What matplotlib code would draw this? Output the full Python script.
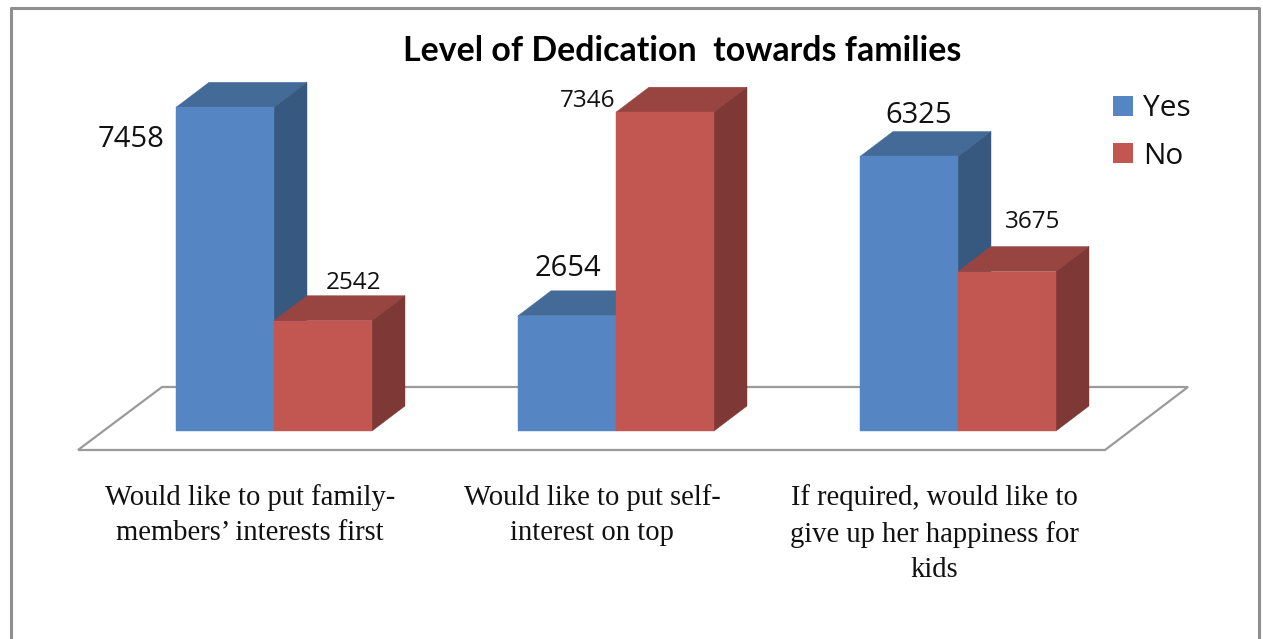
import matplotlib
matplotlib.use('Agg')
import matplotlib.pyplot as plt
from matplotlib.patches import Polygon, Rectangle
import numpy as np

categories = ['Would like to put family-\nmembers\u2019 interests first',
              'Would like to put self-\ninterest on top',
              'If required, would like to\ngive up her happiness for\nkids']
yes_values = [7458, 2654, 6325]
no_values = [2542, 7346, 3675]

title = 'Level of Dedication  towards families'

#colors: front, top, side
yes_colors = ('#5585C2', '#446A97', '#38597F')
no_colors = ('#C25651', '#984542', '#7E3836')
border = '#8F8F8F'

#pixel layout of the reference
W, H = 1263, 639
base_px = 431
px_per_unit = 0.0434
group_px = 342
first_px = 274
bar_w = 98 / group_px
depth_x = 33 / group_px
depth_y = 25 / px_per_unit

def to_x(px):
    return (px - first_px) / group_px

def to_y(py):
    return (base_px - py) / px_per_unit

fig = plt.figure(figsize=(W / 100, H / 100), dpi=100)
ax = fig.add_axes([0, 0, 1, 1])
ax.set_xlim(to_x(0), to_x(W))
ax.set_ylim(to_y(H), to_y(0))
ax.axis('off')

#chart frame, no bottom edge because the image is cropped there
ax.plot([to_x(10.5), to_x(10.5), to_x(1259), to_x(1259)],
        [to_y(H), to_y(8), to_y(8), to_y(H)], color=border, lw=2.2, zorder=1)

#floor
floor = [(78, 450), (1105, 450), (1188, 387), (162, 387)]
ax.add_patch(Polygon([(to_x(a), to_y(b)) for a, b in floor], closed=True,
                     facecolor='white', edgecolor='#9A9A9A', lw=1.6, zorder=2))


def bar3d(x, v, colors, z):
    left = x - bar_w / 2
    right = x + bar_w / 2
    ax.add_patch(Polygon([(left, v), (right, v), (right + depth_x, v + depth_y),
                          (left + depth_x, v + depth_y)],
                         facecolor=colors[1], edgecolor=colors[1], lw=0.3, zorder=z))
    ax.add_patch(Polygon([(right, 0), (right + depth_x, depth_y),
                          (right + depth_x, v + depth_y), (right, v)],
                         facecolor=colors[2], edgecolor=colors[2], lw=0.3, zorder=z))
    ax.bar(x, v, width=bar_w, color=colors[0], edgecolor=colors[0], linewidth=0.3, zorder=z)


xs = np.arange(len(categories))
for i in xs:
    #blue goes first so the red box covers its side face
    bar3d(i - bar_w / 2, yes_values[i], yes_colors, 3 + 2 * i)
    bar3d(i + bar_w / 2, no_values[i], no_colors, 4 + 2 * i)

#data labels were dragged by hand in the original, offsets in px
yes_offsets = [(-94, -32), (1, 47), (10, 41)]
no_offsets = [(31, 38), (-77, 11), (26, 50)]
for i in xs:
    ax.annotate(str(yes_values[i]), (i - bar_w / 2, yes_values[i]),
                xytext=(yes_offsets[i][0] * 0.72, yes_offsets[i][1] * 0.72),
                textcoords='offset points', ha='center', va='center',
                fontsize=21, family='Open Sans', color='#111111', zorder=20)
    ax.annotate(str(no_values[i]), (i + bar_w / 2, no_values[i]),
                xytext=(no_offsets[i][0] * 0.72, no_offsets[i][1] * 0.72),
                textcoords='offset points', ha='center', va='center',
                fontsize=17.5, family='Open Sans', color='#111111', zorder=20)

#category labels
for i in xs:
    ax.text(i - 0.07, to_y(484), categories[i], ha='center', va='top',
            fontsize=20.6, family='Liberation Serif', color='#111111',
            linespacing=1.47)

ax.text(to_x(682), to_y(51), title, ha='center', va='center', fontsize=24.4,
        family='Lato', fontweight='bold', color='black')

#legend
for name, col, py in [('Yes', yes_colors[0], 106), ('No', no_colors[0], 153)]:
    ax.add_patch(Rectangle((to_x(1113), to_y(py + 10)), 20 / group_px, 20 / px_per_unit,
                           facecolor=col, linewidth=0, zorder=5))
    ax.text(to_x(1143), to_y(py + 3), name, ha='left', va='center', fontsize=21.5,
            family='Open Sans', color='#111111')

fig.savefig('out.png', dpi=100)
